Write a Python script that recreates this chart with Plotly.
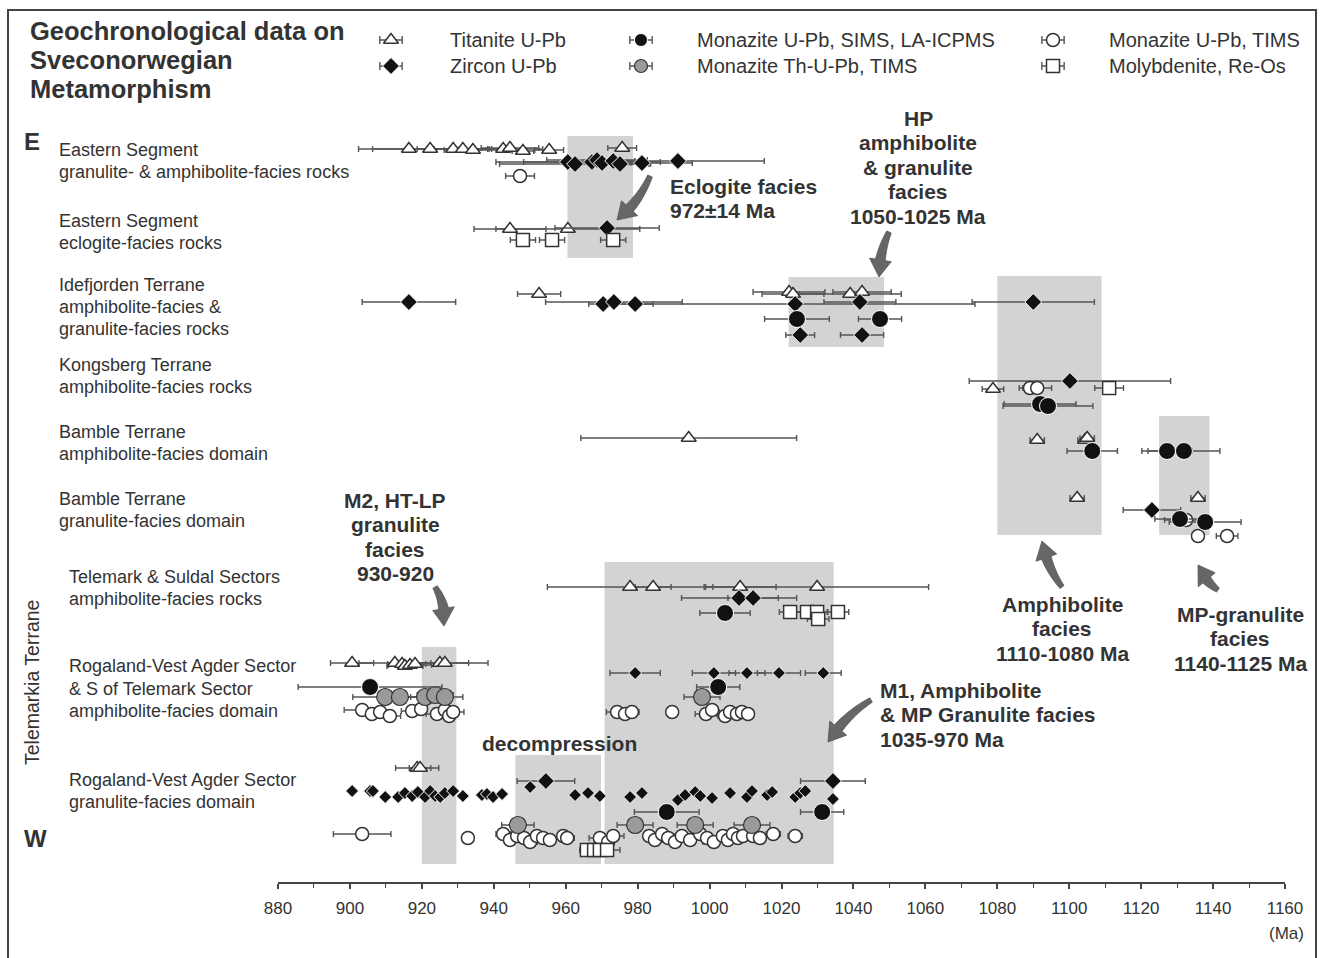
import math
import plotly.graph_objects as go

# ---------------- data (ages in Ma, errors in Ma, lane = vertical track position) -------------
titanite_age = [916.4, 922.3, 928.7, 931.4, 934.2, 942.6, 944.5, 948.1, 955.4, 975.7,
                944.5, 960.6,
                952.6, 1022.1, 1023.2, 1039.1, 1042.4,
                1078.8,
                994.2, 1091.1, 1104.4, 1105.0,
                1102.2, 1135.8,
                977.9, 984.3, 1008.5, 1029.9,
                900.6, 912.5, 914.5, 915.3, 916.7, 918.1, 925.0, 926.4,
                918.7, 919.5]
titanite_err = [14, 16, 10, 8, 8, 11, 8, 3, 4, 4,
                10, 20,
                6, 10, 8.6, 14.2, 8.1,
                3,
                30, 2, 2, 2,
                2, 2,
                23, 5, 10, 31,
                6, 10, 4, 5, 6, 3, 8, 12,
                6, 3]
titanite_lane = [149, 149, 149, 149, 150, 149, 148, 151, 150, 148,
                 229, 229,
                 294, 292, 294, 294, 292,
                 389,
                 438, 440, 440, 438,
                 498, 498,
                 587, 587, 587, 587,
                 663, 663, 664, 666, 665, 664, 663, 663,
                 768, 768]

zircon_age = [960.6, 962.6, 967.3, 968.7, 970.1, 973.2, 975.1, 981.2, 991.2,
              971.5,
              916.4, 970.4, 973.4, 979.3, 1023.8, 1041.8, 1090.0,
              1025.2, 1042.4,
              1100.2,
              1123.0,
              1008.2, 1012.1,
              954.5, 1034.3]
zircon_err = [20, 21, 19, 14, 8, 6, 8, 14, 24,
              14.5,
              13, 4, 19, 5, 50, 10, 17,
              4, 6,
              28,
              8,
              16, 7,
              8, 9]
zircon_lane = [162, 164, 162, 160, 163, 161, 164, 163, 161,
               228,
               302, 304, 302, 304, 304, 302, 302,
               335, 335,
               381,
               510,
               598, 598,
               781, 781]

zircon_small_age = [979.3, 1001.2, 1010.4, 1019.3, 1031.6,
                    900.6, 905.6, 906.4, 909.8, 913.4, 915.3, 917.3, 918.9, 920.9, 922.3,
                    923.7, 925.1, 926.4, 928.7, 931.4, 936.7, 938.1, 939.8, 942.3, 950.1,
                    962.6, 966.2, 969.5, 977.9, 981.2, 991.2, 993.2, 996.0, 997.4, 1000.7,
                    1005.7, 1010.4, 1011.8, 1016.0, 1017.4, 1023.8, 1025.2, 1026.6, 1034.3]
zircon_small_err = [7, 6, 5, 6, 5] + [0] * 39
zircon_small_lane = [673, 673, 673, 673, 673,
                     791, 791, 791, 797, 797, 793, 796, 792, 797, 791,
                     796, 797, 793, 791, 796, 795, 794, 797, 794, 787,
                     795, 793, 796, 797, 793, 800, 795, 792, 796, 798,
                     793, 797, 791, 795, 792, 797, 793, 791, 799]

mnz_sims_age = [1024.3, 1047.4, 1091.9, 1094.1, 1106.4, 1127.2, 1131.9, 1130.8, 1137.8,
                1004.3, 905.6, 1002.4, 988.1, 1031.3]
mnz_sims_err = [9, 6, 10, 12.5, 7, 7, 10, 7, 10, 7, 20, 6, 9, 6]
mnz_sims_lane = [319, 319, 404, 406, 451, 451, 451, 519, 522, 613, 687, 687, 812, 812]

mnz_thu_age = [909.8, 913.9, 920.9, 923.7, 926.4, 997.9, 946.7, 979.3, 996.0, 1011.8]
mnz_thu_err = [9, 5, 4, 5, 5, 5, 4.5, 5, 5, 5]
mnz_thu_lane = [697, 697, 697, 695, 697, 697, 825, 825, 825, 825]

mnz_tims_age = [947.3,
                1089.1, 1091.1,
                1132.5, 1135.8, 1143.9,
                903.4, 906.1, 908.4, 911.1, 917.3, 919.8, 924.2, 926.4, 927.6, 928.7,
                974.3, 976.5, 978.4, 989.6, 999.0, 1000.7, 1004.3, 1005.7, 1007.6, 1009.0, 1010.7,
                903.4, 932.8, 942.6, 944.5, 946.5, 948.4, 950.1, 952.0, 953.7, 955.6,
                959.3, 960.4, 969.5, 971.8, 973.2, 983.2, 984.8, 986.8, 988.5, 990.4,
                992.3, 994.6, 997.4, 999.3, 1001.2, 1003.7, 1005.1, 1006.5, 1007.9, 1009.3,
                1012.1, 1014.0, 1017.7, 1023.8]
mnz_tims_err = [4,
                3, 4,
                6, 0, 3,
                5, 3, 0, 3, 3, 0, 3, 3, 0, 3,
                3, 0, 2, 0, 3, 0, 2, 3, 0, 3, 0,
                8, 0, 2, 0, 3, 0, 2, 0, 3, 0,
                0, 2, 3, 0, 3, 0, 2, 0, 3, 0,
                2, 0, 2, 0, 3, 0, 2, 0, 3, 0,
                2, 0, 2, 2]
mnz_tims_lane = [176,
                 388, 388,
                 520, 536, 536,
                 710, 714, 712, 716, 711, 709, 714, 710, 716, 712,
                 712, 714, 712, 712, 714, 710, 716, 712, 714, 712, 714,
                 834, 838, 834, 840, 836, 838, 842, 836, 838, 840,
                 836, 838, 838, 842, 836, 836, 840, 834, 838, 842,
                 836, 840, 834, 838, 842, 836, 840, 834, 838, 836,
                 836, 838, 834, 836]

moly_age = [948.1, 956.2, 973.2, 1111.1, 1022.4, 1027.1, 1029.9, 1030.2, 1035.7,
            965.9, 967.9, 969.5, 971.5]
moly_err = [3.5, 3.5, 3.5, 4, 3, 3, 3, 3, 3, 2, 2, 2, 3.6]
moly_lane = [240, 240, 240, 388, 612, 612, 612, 619, 612, 850, 850, 850, 850]

# shaded metamorphic episodes
facies_start = [960.5, 1022.0, 1080.0, 1125.0, 920.0, 946.0, 970.8]
facies_end = [978.7, 1048.5, 1109.0, 1139.0, 929.6, 969.8, 1034.5]
facies_top = [136, 277, 276, 416, 647, 755, 562]
facies_bottom = [258, 347, 535, 535, 864, 864, 864]

x_ticks = list(range(880, 1161, 20))

row_labels = [
    ("Eastern Segment", 57, 150), ("granulite- & amphibolite-facies rocks", 57, 172),
    ("Eastern Segment", 57, 221), ("eclogite-facies rocks", 57, 243),
    ("Idefjorden Terrane", 57, 285), ("amphibolite-facies &", 57, 307),
    ("granulite-facies rocks", 57, 329),
    ("Kongsberg Terrane", 57, 365), ("amphibolite-facies rocks", 57, 387),
    ("Bamble Terrane", 57, 432), ("amphibolite-facies domain", 57, 454),
    ("Bamble Terrane", 57, 499), ("granulite-facies domain", 57, 521),
    ("Telemark & Suldal Sectors", 67, 577), ("amphibolite-facies rocks", 67, 599),
    ("Rogaland-Vest Agder Sector", 67, 666), ("& S of Telemark Sector", 67, 689),
    ("amphibolite-facies domain", 67, 711),
    ("Rogaland-Vest Agder Sector", 67, 780), ("granulite-facies domain", 67, 802),
]

# ---------------- layout helpers -------------
W, H = 1324, 958
X0_PX, X1_PX = 278, 1285
AXIS_Y = 883
TXT = '#333333'
FONT = 'Liberation Sans, Arial, sans-serif'


def px2paper(px):
    return px / W


def px2ma(px):
    return 880 + (px - X0_PX) * 280 / (X1_PX - X0_PX)


STYLES = {
    'Titanite U-Pb': dict(symbol='triangle-up', size=13, color='white', line=dict(color='#333', width=1.5)),
    'Zircon U-Pb': dict(symbol='diamond', size=13, color='#111', line=dict(color='white', width=1)),
    'Monazite U-Pb, SIMS, LA-ICPMS': dict(symbol='circle', size=17, color='#111', line=dict(color='white', width=1)),
    'Monazite Th-U-Pb, TIMS': dict(symbol='circle', size=17, color='#9a9a9a', line=dict(color='#333', width=1.2)),
    'Monazite U-Pb, TIMS': dict(symbol='circle', size=13, color='white', line=dict(color='#333', width=1.5)),
    'Molybdenite, Re-Os': dict(symbol='square', size=13, color='white', line=dict(color='#333', width=1.5)),
}


def err(arr, width=3):
    return dict(type='data', array=arr, symmetric=True, color='#555', thickness=1.4, width=width, visible=True)


fig = go.Figure()

series = [
    ('Titanite U-Pb', titanite_age, titanite_err, titanite_lane, None),
    ('Zircon U-Pb', zircon_age, zircon_err, zircon_lane, None),
    ('Zircon U-Pb', zircon_small_age, zircon_small_err, zircon_small_lane, 10),
    ('Monazite U-Pb, TIMS', mnz_tims_age, mnz_tims_err, mnz_tims_lane, None),
    ('Monazite Th-U-Pb, TIMS', mnz_thu_age, mnz_thu_err, mnz_thu_lane, None),
    ('Monazite U-Pb, SIMS, LA-ICPMS', mnz_sims_age, mnz_sims_err, mnz_sims_lane, None),
    ('Molybdenite, Re-Os', moly_age, moly_err, moly_lane, None),
]
for name, xs, es, ys, size in series:
    m = dict(STYLES[name])
    if size:
        m['size'] = size
    fig.add_trace(go.Scatter(x=xs, y=ys, mode='markers', name=name, marker=m,
                             error_x=err(es), showlegend=False, cliponaxis=False))

# ---------------- manual legend -------------
legend_items = [
    ('Titanite U-Pb', 391, 448, 40), ('Zircon U-Pb', 391, 448, 66),
    ('Monazite U-Pb, SIMS, LA-ICPMS', 641, 695, 40), ('Monazite Th-U-Pb, TIMS', 641, 695, 66),
    ('Monazite U-Pb, TIMS', 1053, 1107, 40), ('Molybdenite, Re-Os', 1053, 1107, 66),
]
annotations = []
for name, mx, tx, ly in legend_items:
    m = dict(STYLES[name])
    m['size'] = min(m['size'], 13)
    fig.add_trace(go.Scatter(x=[px2ma(mx)], y=[ly], mode='markers', marker=m,
                             error_x=err([3.1], width=4), showlegend=False, cliponaxis=False,
                             hoverinfo='skip'))
    annotations.append(dict(x=px2paper(tx), xref='paper', y=ly, yref='y', text=name,
                            showarrow=False, xanchor='left', yanchor='middle',
                            font=dict(family=FONT, size=20, color=TXT)))

# ---------------- shapes -------------
shapes = []
for s, e, t, b in zip(facies_start, facies_end, facies_top, facies_bottom):
    shapes.append(dict(type='rect', xref='x', yref='y', x0=s, x1=e, y0=t, y1=b,
                       fillcolor='#d3d3d3', line=dict(width=0), layer='below'))
shapes.append(dict(type='rect', xref='paper', yref='paper', x0=8 / W, x1=1316 / W,
                   y0=-0.02, y1=1 - 10 / H, line=dict(color='#444', width=2),
                   fillcolor='rgba(0,0,0,0)'))


def arrow_path(tx, ty, hx, hy, bend, head_len=17, head_w=11, w0=2.5, w1=5.0):
    """Curved fat arrow outline (page pixels) -> SVG path in paper coordinates."""
    dx, dy = hx - tx, hy - ty
    d = math.hypot(dx, dy)
    nx, ny = -dy / d, dx / d
    cx, cy = (tx + hx) / 2 + bend * nx, (ty + hy) / 2 + bend * ny

    def bez(t):
        x = (1 - t) ** 2 * tx + 2 * (1 - t) * t * cx + t ** 2 * hx
        y = (1 - t) ** 2 * ty + 2 * (1 - t) * t * cy + t ** 2 * hy
        ddx = 2 * (1 - t) * (cx - tx) + 2 * t * (hx - cx)
        ddy = 2 * (1 - t) * (cy - ty) + 2 * t * (hy - cy)
        ln = math.hypot(ddx, ddy)
        return x, y, -ddy / ln, ddx / ln

    tb = max(0.2, 1 - head_len / d)
    left, right = [], []
    n = 14
    for i in range(n + 1):
        t = tb * i / n
        x, y, ux, uy = bez(t)
        w = w0 + (w1 - w0) * i / n
        left.append((x + w * ux, y + w * uy))
        right.append((x - w * ux, y - w * uy))
    bx, by, ux, uy = bez(tb)
    pts = left + [(bx + head_w * ux, by + head_w * uy), (hx, hy),
                  (bx - head_w * ux, by - head_w * uy)] + right[::-1]
    return 'M ' + ' L '.join('%.5f,%.5f' % (px / W, 1 - py / H) for px, py in pts) + ' Z'


arrows = [  # (tail x, tail y, head x, head y, bend) in page pixels
    (650, 176, 617, 220, -7),
    (889, 232, 879, 277, 5),
    (435, 587, 444, 626, -7),
    (1062, 587, 1042, 541, -6),
    (1218, 590, 1198, 565, -5),
    (871, 700, 828, 742, 7),
]
for tx, ty, hx, hy, bend in arrows:
    shapes.append(dict(type='path', xref='paper', yref='paper', path=arrow_path(tx, ty, hx, hy, bend),
                       fillcolor='#666666', line=dict(color='#555555', width=0.8), layer='above'))

# ---------------- text -------------
for i, line in enumerate(['Geochronological data on', 'Sveconorwegian', 'Metamorphism']):
    annotations.append(dict(x=px2paper(28), xref='paper', y=31 + 29 * i, yref='y', text='<b>%s</b>' % line,
                            showarrow=False, xanchor='left', yanchor='middle',
                            font=dict(family=FONT, size=25.5, color=TXT)))

for text, x, y in row_labels:
    annotations.append(dict(x=px2paper(x), xref='paper', y=y, yref='y', text=text, showarrow=False,
                            xanchor='left', yanchor='middle', font=dict(family=FONT, size=18, color=TXT)))

annotations += [
    dict(x=px2paper(32), xref='paper', y=141, yref='y', text='<b>E</b>', showarrow=False,
         xanchor='center', yanchor='middle', font=dict(family=FONT, size=24, color=TXT)),
    dict(x=px2paper(35), xref='paper', y=838, yref='y', text='<b>W</b>', showarrow=False,
         xanchor='center', yanchor='middle', font=dict(family=FONT, size=24, color=TXT)),
    dict(x=px2paper(32), xref='paper', y=683, yref='y', text='Telemarkia Terrane', showarrow=False,
         xanchor='center', yanchor='middle', textangle=-90, font=dict(family=FONT, size=19.5, color=TXT)),
    dict(x=px2paper(1306), xref='paper', y=933, yref='y', text='(Ma)', showarrow=False,
         xanchor='right', yanchor='middle', font=dict(family=FONT, size=17, color=TXT)),
]

bold_blocks = [
    (['Eclogite facies', '972±14 Ma'], 668, 186, 'left'),
    (['HP', 'amphibolite', '& granulite', 'facies', '1050-1025 Ma'], 918, 118, 'center'),
    (['M2, HT-LP', 'granulite', 'facies', '930-920'], 395, 500, 'center'),
    (['decompression'], 480, 743, 'left'),
    (['M1, Amphibolite', '& MP Granulite facies', '1035-970 Ma'], 878, 690, 'left'),
    (['Amphibolite', 'facies', '1110-1080 Ma'], 1062, 604, 'center'),
    (['MP-granulite', 'facies', '1140-1125 Ma'], 1240, 614, 'center'),
]
for lines, x, y0, anchor in bold_blocks:
    for i, line in enumerate(lines):
        annotations.append(dict(x=px2paper(x), xref='paper', y=y0 + 24.5 * i, yref='y',
                                text='<b>%s</b>' % line, showarrow=False, xanchor=anchor,
                                yanchor='middle', font=dict(family=FONT, size=21, color=TXT)))

fig.update_layout(
    width=W, height=H, autosize=False, margin=dict(l=0, r=0, t=0, b=0, pad=0, autoexpand=False),
    paper_bgcolor='white', plot_bgcolor='white', showlegend=False,
    xaxis=dict(range=[880, 1160], domain=[X0_PX / W, X1_PX / W], anchor='free',
               position=(H - AXIS_Y) / H, showline=True, linecolor='#444', linewidth=2,
               ticks='outside', ticklen=5, tickwidth=1.5, tickcolor='#444', automargin=False,
               tickvals=x_ticks, showgrid=False, zeroline=False, ticklabelstandoff=5,
               tickfont=dict(family=FONT, size=17, color=TXT),
               minor=dict(dtick=10, tick0=880, ticks='outside', ticklen=4, tickcolor='#444', tickwidth=1.2)),
    yaxis=dict(range=[H, 0], domain=[0, 1], visible=False, showgrid=False, zeroline=False,
               automargin=False),
    shapes=shapes, annotations=annotations,
)

fig.write_html("out.html", config={'responsive': False, 'displayModeBar': False},
               post_script="document.body.style.margin='0';document.body.style.overflow='hidden';")
